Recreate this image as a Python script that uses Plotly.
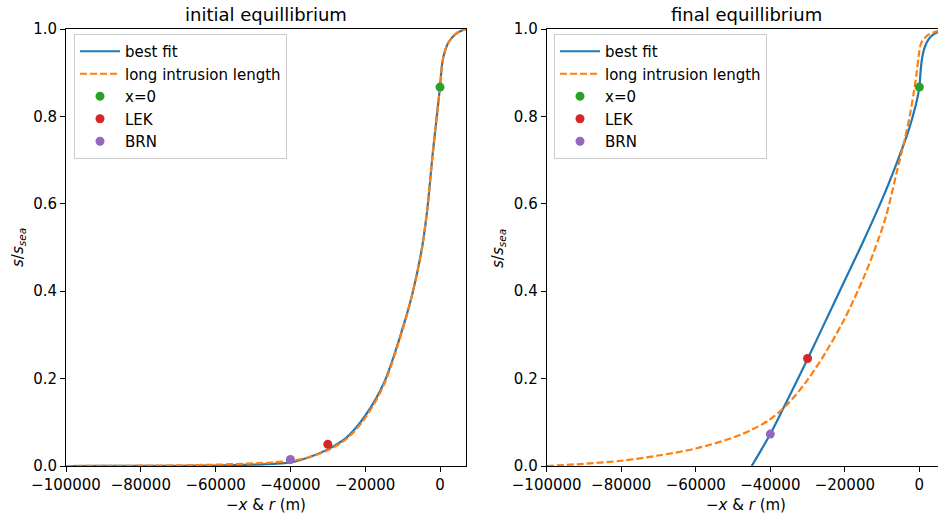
import plotly.graph_objects as go

# ---------------- data ----------------
x_left = [-100000, -90000, -80000, -70000, -60000, -50000, -45000, -40000, -35000,
          -30000, -25000, -20000, -15000, -10000, -7500, -5000, -3500, -2000, -1000,
          0, 500, 1000, 2000, 3000, 4000, 5000, 6000, 7000]
best_left = [0.0, 0.0001, 0.0002, 0.0005, 0.0012, 0.003, 0.005, 0.008, 0.020,
             0.038, 0.065, 0.115, 0.19, 0.315, 0.39, 0.49, 0.58, 0.71, 0.79,
             0.867, 0.915, 0.94, 0.965, 0.978, 0.987, 0.993, 0.997, 1.0]
long_left = [0.0, 0.0003, 0.0007, 0.0015, 0.003, 0.006, 0.008, 0.012, 0.020,
             0.036, 0.062, 0.110, 0.186, 0.312, 0.39, 0.49, 0.58, 0.71, 0.79,
             0.867, 0.915, 0.94, 0.965, 0.978, 0.987, 0.993, 0.997, 1.0]

x_best_right = [-45000, -40000, -35000, -30000, -25000, -20000, -15000, -10000,
                -6000, -3000, -1000, 0, 300, 600, 1000, 1500, 2500, 3500, 5000, 7000]
best_right = [0.0, 0.073, 0.158, 0.245, 0.335, 0.425, 0.515, 0.61,
              0.695, 0.765, 0.825, 0.867, 0.90, 0.925, 0.945, 0.96, 0.977, 0.986, 0.993, 0.998]

x_long_right = [-100000, -90000, -80000, -70000, -60000, -50000, -45000, -40000,
                -35000, -30000, -25000, -20000, -15000, -12000, -9000, -6000, -4000,
                -2500, -1500, -800, -300, 0, 450, 1000, 2230, 3500, 5000, 7000]
long_right = [0.0, 0.005, 0.012, 0.024, 0.040, 0.065, 0.083, 0.107,
              0.145, 0.197, 0.262, 0.338, 0.43, 0.495, 0.57, 0.675, 0.745,
              0.805, 0.855, 0.895, 0.93, 0.95, 0.967, 0.975, 0.986, 0.991, 0.995, 0.998]

pt_names = ["x=0", "LEK", "BRN"]
pt_x = [0, -30000, -40000]
pt_y_left = [0.867, 0.0496, 0.015]
pt_y_right = [0.867, 0.246, 0.073]

x_ticks = [-100000, -80000, -60000, -40000, -20000, 0]
x_tick_text = ["−100000", "−80000", "−60000", "−40000", "−20000", "0"]
y_ticks = [0.0, 0.2, 0.4, 0.6, 0.8, 1.0]
y_tick_text = ["0.0", "0.2", "0.4", "0.6", "0.8", "1.0"]

titles = ["initial equillibrium", "final equillibrium"]

# ---------------- style ----------------
BLUE, ORANGE = "#1f77b4", "#ff7f0e"
PT_COLORS = ["#2ca02c", "#d62728", "#9467bd"]
FONT = "DejaVu Sans"
W, H = 938, 517
ML, MR, MT, MB = 0, 0, 29, 51

fig = go.Figure()

panels = [
    ("x", "y", "legend", x_left, best_left, x_left, long_left, pt_y_left),
    ("x2", "y2", "legend2", x_best_right, best_right, x_long_right, long_right, pt_y_right),
]
for xa, ya, lg, xb, yb, xl, yl, pty in panels:
    fig.add_trace(go.Scatter(x=xb, y=yb, mode="lines", name="best fit",
                             line=dict(color=BLUE, width=2.2, shape="spline", smoothing=0.9),
                             xaxis=xa, yaxis=ya, legend=lg, legendgroup=lg + "a"))
    fig.add_trace(go.Scatter(x=xl, y=yl, mode="lines", name="long intrusion length",
                             line=dict(color=ORANGE, width=2.2, dash="7px,3px",
                                       shape="spline", smoothing=0.9),
                             xaxis=xa, yaxis=ya, legend=lg, legendgroup=lg + "b"))
    for i, (n, c) in enumerate(zip(pt_names, PT_COLORS)):
        fig.add_trace(go.Scatter(x=[pt_x[i]], y=[pty[i]], mode="markers", name=n,
                                 marker=dict(color=c, size=9), xaxis=xa, yaxis=ya,
                                 legend=lg, legendgroup=lg + str(i), cliponaxis=False))

def px_x(p):
    return p / W

def px_y(p):
    return (H - MB - p) / (H - MT - MB)

axis_common = dict(showgrid=False, zeroline=False, showline=True, linecolor="black",
                   linewidth=1, ticks="outside", ticklen=5, tickwidth=1, tickcolor="black",
                   tickfont=dict(family=FONT, size=15, color="black"), automargin=False)

legend_common = dict(xanchor="left", yanchor="top",
                     bgcolor="rgba(255,255,255,0.8)", bordercolor="#cccccc", borderwidth=1,
                     font=dict(family=FONT, size=15, color="black"), tracegroupgap=0,
                     itemwidth=40)

fig.update_layout(
    width=W, height=H,
    margin=dict(l=ML, r=MR, t=MT, b=MB),
    plot_bgcolor="white", paper_bgcolor="white",
    font=dict(family=FONT, size=15, color="black"),
    xaxis=dict(domain=[px_x(66), px_x(466)], range=[-100000, 6950], tickmode="array",
               tickvals=x_ticks, ticktext=x_tick_text, mirror=True, anchor="y", **axis_common),
    yaxis=dict(domain=[0, 1], range=[0, 1], tickmode="array", tickvals=y_ticks,
               ticktext=y_tick_text, mirror=True, anchor="x", **axis_common),
    xaxis2=dict(domain=[px_x(546.7), 1.0], range=[-100000, 5000], tickmode="array",
                tickvals=x_ticks, ticktext=x_tick_text, mirror=True, anchor="y2", **axis_common),
    yaxis2=dict(domain=[0, 1], range=[0, 1], tickmode="array", tickvals=y_ticks,
                ticktext=y_tick_text, mirror=False, anchor="x2", **axis_common),
    legend=dict(x=px_x(74), y=px_y(34), **legend_common),
    legend2=dict(x=px_x(554), y=px_y(34), **legend_common),
    showlegend=True,
)

centers = [266, 746]
for cx, t in zip(centers, titles):
    fig.add_annotation(text=t, x=px_x(cx), y=px_y(14), xref="paper", yref="paper",
                       showarrow=False, xanchor="center", yanchor="middle",
                       font=dict(family=FONT, size=18, color="black"))
    fig.add_annotation(text="−<i>x</i> &amp; <i>r</i> (m)", x=px_x(cx), y=px_y(505),
                       xref="paper", yref="paper", showarrow=False,
                       xanchor="center", yanchor="middle",
                       font=dict(family=FONT, size=15, color="black"))

for lx in [18, 498]:
    fig.add_annotation(text="<i>s</i>/<i>s</i><sub><i>sea</i></sub>", x=px_x(lx), y=px_y(248),
                       xref="paper", yref="paper", showarrow=False, textangle=-90,
                       xanchor="center", yanchor="middle",
                       font=dict(family=FONT, size=15, color="black"))

fig.write_html("out.html")
